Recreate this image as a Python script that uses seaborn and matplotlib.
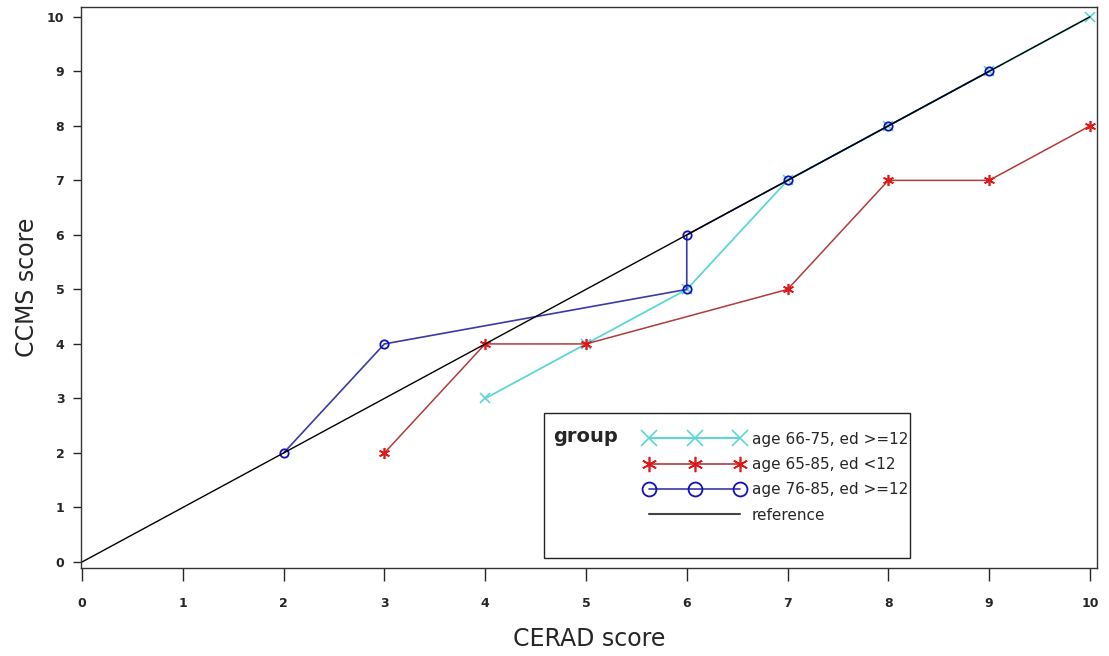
import pandas as pd
import matplotlib.pyplot as plt
import seaborn as sns
from matplotlib.lines import Line2D
from matplotlib.patches import Rectangle

# --- data ---
cerad_young = [4, 5, 6, 7, 8, 9, 10]
ccms_young = [3, 4, 5, 7, 8, 9, 10]

cerad_lowed = [3, 4, 5, 7, 8, 9, 10]
ccms_lowed = [2, 4, 4, 5, 7, 7, 8]

cerad_old = [2, 3, 6, 6, 7, 8, 9]
ccms_old = [2, 4, 5, 6, 7, 8, 9]

ref_x = [0, 10]
ref_y = [0, 10]

labels = ["age 66-75, ed >=12", "age 65-85, ed <12", "age 76-85, ed >=12", "reference"]
tick_vals = list(range(0, 11))

sns.set_style("ticks")
plt.rcParams['font.family'] = ['DejaVu Sans']

fig = plt.figure(figsize=(11.09, 6.56), dpi=100)
ax = fig.add_axes([81 / 1109, 1 - 568 / 656, 1016 / 1109, 561 / 656])

cyan = "#5cd6d6"
red_line, red_mk = "#b23a3a", "#e01818"
blue_line, blue_mk = "#3a3aa8", "#1010c0"
asterisk = (6, 2, 0)

sns.lineplot(x=cerad_young, y=ccms_young, sort=False, estimator=None, ax=ax,
             color=cyan, lw=1.3, marker="x", markersize=7, markeredgecolor=cyan,
             markeredgewidth=1.2)
sns.lineplot(x=cerad_lowed, y=ccms_lowed, sort=False, estimator=None, ax=ax,
             color=red_line, lw=1.1, marker=asterisk, markersize=8,
             markeredgecolor=red_mk, markeredgewidth=1.2)
sns.lineplot(x=cerad_old, y=ccms_old, sort=False, estimator=None, ax=ax,
             color=blue_line, lw=1.2, marker="o", markersize=6, markerfacecolor="none",
             markeredgecolor=blue_mk, markeredgewidth=1.3)
sns.lineplot(x=ref_x, y=ref_y, estimator=None, ax=ax, color="black", lw=1.0)

ax.set_xlim(-0.01, 10.07)
ax.set_ylim(-0.11, 10.18)
ax.set_xticks(tick_vals)
ax.set_yticks(tick_vals)
ax.tick_params(axis="x", length=9, width=1, pad=12, labelsize=9, direction="out")
ax.tick_params(axis="y", length=6, width=1, pad=6, labelsize=9, direction="out")
for lab in ax.get_xticklabels() + ax.get_yticklabels():
    lab.set_fontweight("bold")
for sp in ax.spines.values():
    sp.set_linewidth(1.0)
    sp.set_color("#333333")

ax.set_xlabel("CERAD score", fontsize=17, labelpad=12)
ax.set_ylabel("CCMS score", fontsize=17, labelpad=6)

# --- legend box ---
ax.add_patch(Rectangle((0.456, 0.018), 0.36, 0.258, transform=ax.transAxes,
                       fill=False, edgecolor="#222222", lw=1.0, zorder=5))
ax.text(0.465, 0.235, "group", transform=ax.transAxes, fontsize=14,
        fontweight="bold", va="center", ha="left", zorder=6)

handles = [
    Line2D([], [], color=cyan, lw=1.5, marker="x", markersize=11, markeredgewidth=1.2),
    Line2D([], [], color=red_line, lw=1.2, marker=asterisk, markersize=11,
           markeredgecolor=red_mk, markeredgewidth=1.2),
    Line2D([], [], color=blue_line, lw=1.2, marker="o", markersize=10,
           markerfacecolor="none", markeredgecolor=blue_mk, markeredgewidth=1.3),
    Line2D([], [], color="#444444", lw=1.5),
]
leg = ax.legend(handles, labels, loc="upper left", bbox_to_anchor=(0.549, 0.254),
                frameon=False, numpoints=3, handlelength=6.5, handletextpad=0.5,
                labelspacing=0.68, fontsize=11, borderaxespad=0)
leg.set_zorder(6)

fig.savefig("out.png", dpi=100)
